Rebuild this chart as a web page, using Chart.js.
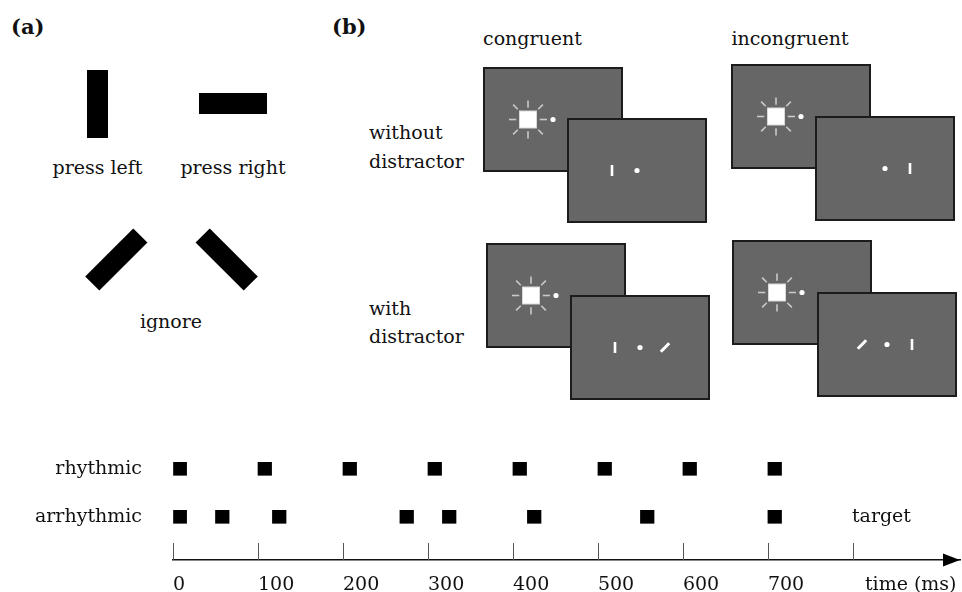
<!DOCTYPE html>
<html>
<head>
<meta charset="utf-8">
<script src="https://cdn.jsdelivr.net/npm/chart.js@4.4.1/dist/chart.umd.min.js"></script>
<style>
  html, body { margin: 0; padding: 0; background: #fff; }
  #page { position: relative; width: 962px; height: 592px; overflow: hidden; font-family: 'DejaVu Serif', serif; }
  #diagram { position: absolute; left: 0; top: 0; }
  #chartBox { position: absolute; left: 0; top: 400px; width: 962px; height: 192px; }
</style>
</head>
<body>
<div id="page">
  <svg id="diagram" width="962" height="400" xmlns="http://www.w3.org/2000/svg"></svg>
  <div id="chartBox"><canvas id="timeline"></canvas></div>
</div>
<script>
// ---------------- data (panel c) ----------------
const ROW_LABELS = ['rhythmic', 'arrhythmic'];
const RHYTHMIC_ONSETS = [0, 100, 200, 300, 400, 500, 600, 700];
const ARRHYTHMIC_ONSETS = [0, 50, 117, 267, 317, 417, 550, 700];
const STIM_MS = 16;
const TICK_VALUES = [0, 100, 200, 300, 400, 500, 600, 700, 800];
const TICK_LABELS = ['0', '100', '200', '300', '400', '500', '600', '700', ''];
const AXIS_TITLE = 'time (ms)';
const TARGET_LABEL = 'target';

// ---------------- diagram (panels a, b) ----------------
const NS = 'http://www.w3.org/2000/svg';
const svg = document.getElementById('diagram');
function el(tag, attrs, parent) {
  const e = document.createElementNS(NS, tag);
  for (const k in attrs) e.setAttribute(k, attrs[k]);
  (parent || svg).appendChild(e);
  return e;
}
function text(str, x, y, opts) {
  opts = opts || {};
  const t = el('text', {
    x: x, y: y,
    'font-family': 'DejaVu Serif',
    'font-size': opts.size || 19,
    'font-weight': opts.bold ? 'bold' : 'normal',
    'text-anchor': opts.anchor || 'start',
    fill: '#111'
  });
  t.textContent = str;
  return t;
}

// panel labels
text('(a)', 11, 34, {bold: true, size: 21});
text('(b)', 332, 34, {bold: true, size: 21});
text('(c)', 11, 429, {bold: true, size: 21});

// panel (a)
el('rect', {x: 87, y: 70, width: 21, height: 68, fill: '#000'});
el('rect', {x: 199, y: 93, width: 68, height: 21, fill: '#000'});
el('rect', {x: -10, y: -34, width: 20, height: 68, fill: '#000', transform: 'translate(116.3,259.5) rotate(45)'});
el('rect', {x: -10, y: -34, width: 20, height: 68, fill: '#000', transform: 'translate(226.7,259.5) rotate(-45)'});
text('press left', 97.5, 174, {anchor: 'middle'});
text('press right', 233, 174, {anchor: 'middle'});
text('ignore', 171, 328, {anchor: 'middle'});

// panel (b)
text('congruent', 532.5, 45, {anchor: 'middle'});
text('incongruent', 790, 45, {anchor: 'middle'});
text('without', 369, 139);
text('distractor', 369, 168);
text('with', 369, 315);
text('distractor', 369, 343);

const SCR_W = 140, SCR_H = 105;
function screen(x, y) {
  el('rect', {x: x + 1, y: y + 1, width: SCR_W - 2, height: SCR_H - 2, fill: '#666666', stroke: '#1c1c1c', 'stroke-width': 2});
  return {cx: x + SCR_W / 2, cy: y + SCR_H / 2};
}
function dot(cx, cy) { el('circle', {cx: cx, cy: cy, r: 2.6, fill: '#fff'}); }
function sun(cx, cy) {
  for (let k = 0; k < 8; k++) {
    const a = k * Math.PI / 4;
    const diag = k % 2 === 1;
    const r1 = diag ? 14.5 : 11.8, r2 = diag ? 21 : 19;
    el('line', {x1: cx + r1 * Math.cos(a), y1: cy + r1 * Math.sin(a), x2: cx + r2 * Math.cos(a), y2: cy + r2 * Math.sin(a), stroke: '#c9c9c9', 'stroke-width': 1.6});
  }
  el('rect', {x: cx - 8.5, y: cy - 8.5, width: 17, height: 17, fill: '#fff', stroke: '#d8d8d8', 'stroke-width': 1});
}
function vbar(cx, cy) { el('rect', {x: cx - 1.3, y: cy - 5.5, width: 2.6, height: 11, fill: '#fff'}); }
function dbar(cx, cy) { el('line', {x1: cx - 4.2, y1: cy + 4.2, x2: cx + 4.2, y2: cy - 4.2, stroke: '#fff', 'stroke-width': 3}); }

const CUE_OFFSET = 25;
const trials = [
  {back: [483, 67],  front: [567, 118], target: -1, distractor: false},
  {back: [731, 64],  front: [815, 116], target: 1,  distractor: false},
  {back: [486, 243], front: [570, 295], target: -1, distractor: true},
  {back: [732, 240], front: [817, 292], target: 1,  distractor: true}
];
trials.forEach(t => {
  const b = screen(t.back[0], t.back[1]);
  sun(b.cx - CUE_OFFSET, b.cy);
  dot(b.cx, b.cy);
  const f = screen(t.front[0], t.front[1]);
  dot(f.cx, f.cy);
  vbar(f.cx + t.target * CUE_OFFSET, f.cy);
  if (t.distractor) dbar(f.cx - t.target * CUE_OFFSET, f.cy);
});

// ---------------- chart (panel c) ----------------
const FONT = {family: 'DejaVu Serif', size: 19};
const ROW_VALUE = {rhythmic: 2, arrhythmic: 1};

function toBars(onsets, rowName) {
  return onsets.map(t => ({x: [t, t + STIM_MS], y: ROW_VALUE[rowName]}));
}

const axisDecor = {
  id: 'axisDecor',
  afterDraw(chart) {
    const ctx = chart.ctx;
    const xs = chart.scales.x;
    const ys = chart.scales.y;
    const yAxis = chart.chartArea.bottom;
    ctx.save();
    // upward tick marks
    ctx.strokeStyle = '#555';
    ctx.lineWidth = 1;
    TICK_VALUES.forEach(v => {
      const px = Math.round(xs.getPixelForValue(v)) + 0.5;
      ctx.beginPath();
      ctx.moveTo(px, yAxis - 17);
      ctx.lineTo(px, yAxis);
      ctx.stroke();
    });
    // arrow head
    const tip = chart.chartArea.right;
    ctx.fillStyle = '#000';
    ctx.beginPath();
    ctx.moveTo(tip, yAxis);
    ctx.lineTo(tip - 17, yAxis - 6.5);
    ctx.lineTo(tip - 17, yAxis + 6.5);
    ctx.closePath();
    ctx.fill();
    // texts
    ctx.font = '19px "DejaVu Serif"';
    ctx.fillStyle = '#111';
    ctx.textAlign = 'left';
    ctx.textBaseline = 'middle';
    const x800 = xs.getPixelForValue(800);
    ctx.fillText(TARGET_LABEL, x800 - 1, ys.getPixelForValue(ROW_VALUE.arrhythmic));
    ctx.fillText(AXIS_TITLE, x800 + 12, yAxis + 25);
    ctx.restore();
  }
};

new Chart(document.getElementById('timeline'), {
  type: 'bar',
  data: {
    datasets: [
      {label: ROW_LABELS[0], data: toBars(RHYTHMIC_ONSETS, 'rhythmic'), backgroundColor: '#000', grouped: false, barThickness: 13, maxBarThickness: 13, borderWidth: 0},
      {label: ROW_LABELS[1], data: toBars(ARRHYTHMIC_ONSETS, 'arrhythmic'), backgroundColor: '#000', grouped: false, barThickness: 13, maxBarThickness: 13, borderWidth: 0}
    ]
  },
  options: {
    indexAxis: 'y',
    responsive: true,
    maintainAspectRatio: false,
    animation: false,
    events: [],
    layout: {padding: {top: 40, right: 2, left: 0, bottom: 0}},
    plugins: {legend: {display: false}, tooltip: {enabled: false}},
    scales: {
      x: {
        type: 'linear',
        min: 0,
        max: 926,
        offset: false,
        afterBuildTicks: s => { s.ticks = TICK_VALUES.map(v => ({value: v})); },
        afterFit: s => { s.height = 32; s.paddingTop = 0; s.paddingBottom = 0; },
        grid: {display: true, drawOnChartArea: false, drawTicks: false, lineWidth: 1},
        border: {display: true, color: '#111', width: 1.5},
        ticks: {
          autoSkip: false, maxRotation: 0, align: 'start', padding: 14,
          font: FONT, color: '#111',
          callback: (v) => { const i = TICK_VALUES.indexOf(v); return i >= 0 ? TICK_LABELS[i] : ''; }
        }
      },
      y: {
        type: 'linear',
        min: 0.1,
        max: 2.6,
        offset: false,
        afterBuildTicks: s => { s.ticks = ROW_LABELS.map(n => ({value: ROW_VALUE[n]})); },
        afterFit: s => { s.width = 173; s.paddingTop = 0; s.paddingBottom = 0; },
        grid: {display: false, drawTicks: false, offset: false},
        border: {display: false},
        ticks: {
          padding: 31, font: FONT, color: '#111',
          callback: (v) => { const n = ROW_LABELS.find(r => ROW_VALUE[r] === v); return n || ''; }
        }
      }
    }
  },
  plugins: [axisDecor]
});
</script>
</body>
</html>
